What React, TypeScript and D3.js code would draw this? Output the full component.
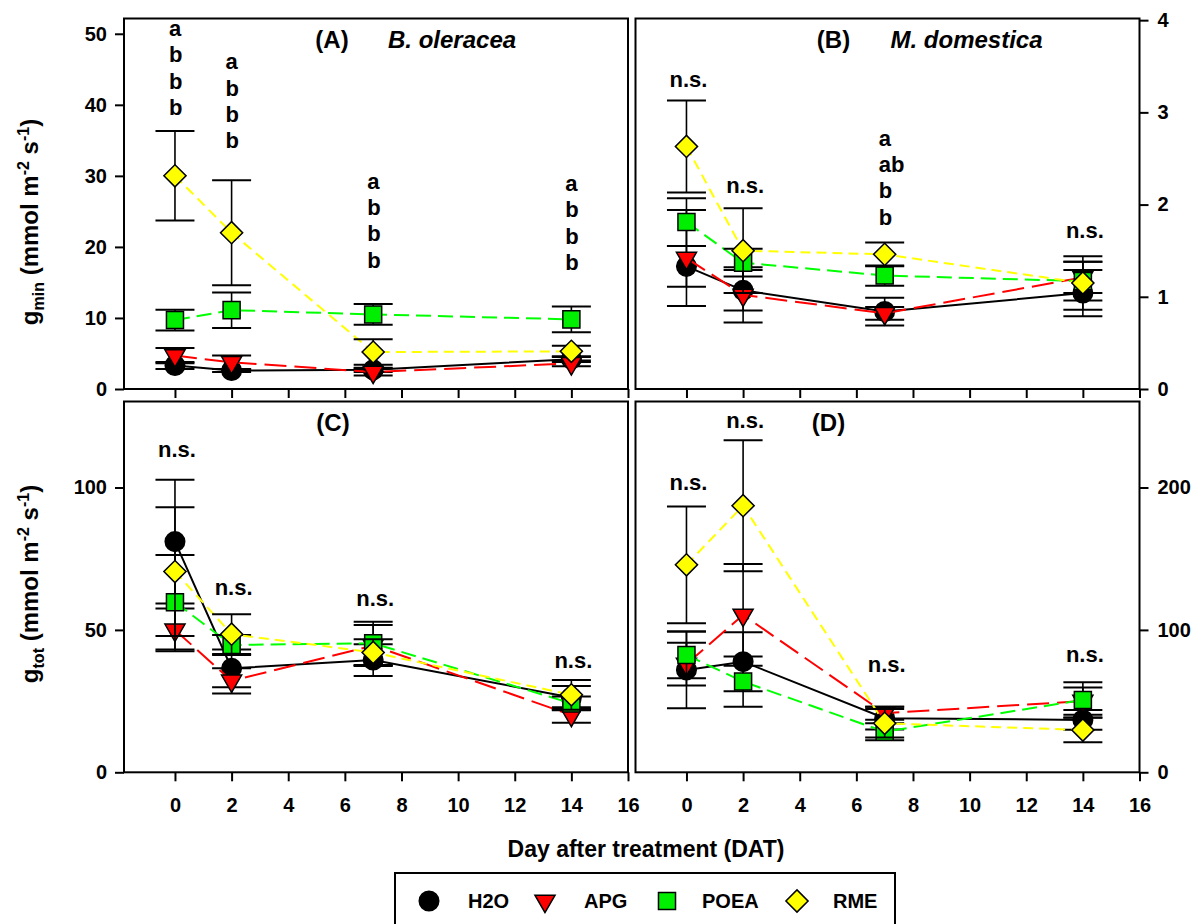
import React, { useEffect, useRef } from 'react';
import * as d3 from 'd3';

// ---------- DATA ----------
const days = [0, 2, 7, 14];
const seriesNames = ['H2O', 'APG', 'POEA', 'RME'];
const xTickValues = [0, 2, 4, 6, 8, 10, 12, 14, 16];

// (A) g_min, B. oleracea
const aH2O = [3.3, 2.6, 2.7, 4.2];
const aH2OErr = [0.5, 0.2, 0.3, 0.4];
const aAPG = [4.7, 3.75, 2.4, 3.6];
const aAPGErr = [1.07, 0.95, 0.5, 0.4];
const aPOEA = [9.7, 11.1, 10.5, 9.8];
const aPOEAErr = [1.45, 2.5, 1.45, 1.8];
const aRME = [30.0, 22.0, 5.2, 5.3];
const aRMEErr = [6.3, 7.4, 1.8, 0.8];

// (B) g_min, M. domestica
const bH2O = [1.33, 1.07, 0.84, 1.04];
const bH2OErr = [0.22, 0.22, 0.15, 0.25];
const bAPG = [1.42, 1.02, 0.82, 1.21];
const bAPGErr = [0.52, 0.3, 0.07, 0.17];
const bPOEA = [1.81, 1.37, 1.23, 1.17];
const bPOEAErr = [0.26, 0.15, 0.11, 0.21];
const bRME = [2.63, 1.5, 1.46, 1.15];
const bRMEErr = [0.5, 0.46, 0.13, 0.29];

// (C) g_tot, B. oleracea
const cH2O = [81.0, 36.5, 39.4, 26.3];
const cH2OErr = [21.7, 6.6, 5.6, 4.0];
const cAPG = [50.0, 32.1, 44.5, 20.1];
const cAPGErr = [7.5, 4.4, 7.2, 2.7];
const cPOEA = [59.7, 44.7, 45.3, 24.2];
const cPOEAErr = [16.6, 3.5, 7.6, 2.4];
const cRME = [70.5, 48.5, 42.1, 27.2];
const cRMEErr = [22.6, 7.0, 4.6, 5.2];

// (D) g_tot, M. domestica
const dH2O = [71.9, 77.7, 38.0, 36.8];
const dH2OErr = [27.0, 20.7, 8.0, 7.0];
const dAPG = [76.0, 110.5, 41.5, 50.0];
const dAPGErr = [15.0, 35.7, 4.6, 9.5];
const dPOEA = [82.4, 63.7, 28.5, 50.8];
const dPOEAErr = [16.4, 17.6, 6.0, 12.4];
const dRME = [145.7, 187.2, 34.4, 29.7];
const dRMEErr = [41.0, 46.0, 10.0, 8.6];

// significance letters
const lettersA = [['a', 'b', 'b', 'b'], ['a', 'b', 'b', 'b'], ['a', 'b', 'b', 'b'], ['a', 'b', 'b', 'b']];
const lettersB = [['n.s.'], ['n.s.'], ['a', 'ab', 'b', 'b'], ['n.s.']];
const lettersC = [['n.s.'], ['n.s.'], ['n.s.'], ['n.s.']];
const lettersD = [['n.s.'], ['n.s.'], ['n.s.'], ['n.s.']];

const yTicksA = [0, 10, 20, 30, 40, 50];
const yTicksB = [0, 1, 2, 3, 4];
const yTicksC = [0, 50, 100];
const yTicksD = [0, 100, 200];

// ---------- STYLE / LAYOUT ----------
const FONT = '"Liberation Sans", Arial, Helvetica, sans-serif';
const styles: Record<string, any> = {
  H2O: { color: '#000000', dash: null, symbol: 'circle', fill: '#000000' },
  APG: { color: '#ff0000', dash: '22 8', symbol: 'triangle', fill: '#ff0000' },
  POEA: { color: '#00ff00', dash: '15 7', symbol: 'square', fill: '#00ee00' },
  RME: { color: '#ffff00', dash: '10 6', symbol: 'diamond', fill: '#ffff00' },
};

const panels = [
  {
    id: 'A', left: 124, right: 628, top: 18.5, bottom: 389, yMax: 52.15, yTicks: yTicksA, side: 'left', xLabels: false,
    series: [[aH2O, aH2OErr], [aAPG, aAPGErr], [aPOEA, aPOEAErr], [aRME, aRMEErr]],
    letters: lettersA, letterY: [49.7, 45.0, 28.2, 27.9],
    title: '(A)', titleX: 208, species: 'B. oleracea', speciesX: 264,
  },
  {
    id: 'B', left: 635.5, right: 1139.5, top: 18.5, bottom: 389, yMax: 4.018, yTicks: yTicksB, side: 'right', xLabels: false,
    series: [[bH2O, bH2OErr], [bAPG, bAPGErr], [bPOEA, bPOEAErr], [bRME, bRMEErr]],
    letters: lettersB, letterY: [3.28, 2.13, 2.64, 1.64],
    title: '(B)', titleX: 198, species: 'M. domestica', speciesX: 255,
  },
  {
    id: 'C', left: 124, right: 628, top: 401.5, bottom: 772.3, yMax: 130.2, yTicks: yTicksC, side: 'left', xLabels: true,
    series: [[cH2O, cH2OErr], [cAPG, cAPGErr], [cPOEA, cPOEAErr], [cRME, cRMEErr]],
    letters: lettersC, letterY: [110.7, 62.3, 58.5, 36.6],
    title: '(C)', titleX: 209, species: '', speciesX: 0,
  },
  {
    id: 'D', left: 635.5, right: 1139.5, top: 401.5, bottom: 772.3, yMax: 260.4, yTicks: yTicksD, side: 'right', xLabels: true,
    series: [[dH2O, dH2OErr], [dAPG, dAPGErr], [dPOEA, dPOEAErr], [dRME, dRMEErr]],
    letters: lettersD, letterY: [198.4, 241.7, 70.7, 77.3],
    title: '(D)', titleX: 193, species: '', speciesX: 0,
  },
];

function symbolPath(kind: string) {
  if (kind === 'circle') return { d: d3.symbol().type(d3.symbolCircle).size(300)()!, rot: 0 };
  if (kind === 'triangle') return { d: d3.symbol().type(d3.symbolTriangle).size(175)()!, rot: 180 };
  if (kind === 'square') return { d: d3.symbol().type(d3.symbolSquare).size(290)()!, rot: 0 };
  return { d: d3.symbol().type(d3.symbolSquare).size(245)()!, rot: 45 };
}

function drawYTitle(svg: any, cx: number, cy: number, sub: string) {
  const t = svg.append('text')
    .attr('transform', `translate(${cx},${cy}) rotate(-90)`)
    .attr('text-anchor', 'middle')
    .attr('font-family', FONT).attr('font-weight', 'bold').attr('font-size', 24).attr('fill', '#000');
  t.append('tspan').text('g');
  t.append('tspan').attr('font-size', 16).attr('dy', 6).text(sub);
  t.append('tspan').attr('dy', -6).text(' (mmol m');
  t.append('tspan').attr('font-size', 16).attr('dy', -9).text('-2');
  t.append('tspan').attr('dy', 9).text(' s');
  t.append('tspan').attr('font-size', 16).attr('dy', -9).text('-1');
  t.append('tspan').attr('dy', 9).text(')');
}

export default function App() {
  const ref = useRef<SVGSVGElement>(null);

  useEffect(() => {
    const svg = d3.select(ref.current);
    svg.selectAll('*').remove();
    svg.append('rect').attr('width', 1204).attr('height', 924).attr('fill', '#fff');

    panels.forEach((p) => {
      const x = d3.scaleLinear().domain([-1.8, 16]).range([p.left, p.right]);
      const y = d3.scaleLinear().domain([0, p.yMax]).range([p.bottom, p.top]);
      const g = svg.append('g');

      // x axis ticks
      const xa = g.append('g').attr('transform', `translate(0,${p.bottom})`)
        .call(d3.axisBottom(x).tickValues(xTickValues).tickSize(9)
          .tickFormat((d: any) => (p.xLabels ? String(d) : '')) as any);
      xa.select('.domain').remove();
      xa.attr('font-family', FONT).attr('font-size', 20).attr('font-weight', 'bold').attr('color', '#000');
      xa.selectAll('line').attr('stroke-width', 2);
      xa.selectAll('text').attr('y', 40).attr('dy', null);

      // y axis
      const axisFn = p.side === 'left' ? d3.axisLeft(y) : d3.axisRight(y);
      const ya = g.append('g').attr('transform', `translate(${p.side === 'left' ? p.left : p.right},0)`)
        .call(axisFn.tickValues(p.yTicks).tickSize(9).tickPadding(p.side === 'left' ? 8 : 9)
          .tickFormat((d: any) => String(d)) as any);
      ya.select('.domain').remove();
      ya.attr('font-family', FONT).attr('font-size', 20).attr('font-weight', 'bold').attr('color', '#000');
      ya.selectAll('line').attr('stroke-width', 2);

      // frame
      g.append('rect').attr('x', p.left).attr('y', p.top)
        .attr('width', p.right - p.left).attr('height', p.bottom - p.top)
        .attr('fill', 'none').attr('stroke', '#000').attr('stroke-width', 2);

      // series
      p.series.forEach(([vals, errs]: any, si: number) => {
        const st = styles[seriesNames[si]];
        const pts = days.map((dd, i) => ({ day: dd, v: vals[i], e: errs[i] }));
        const line = d3.line<any>().x((d) => x(d.day)).y((d) => y(d.v));
        const path = g.append('path').attr('d', line(pts)!).attr('fill', 'none')
          .attr('stroke', st.color).attr('stroke-width', 2);
        if (st.dash) path.attr('stroke-dasharray', st.dash);

        pts.forEach((d) => {
          const cx = x(d.day);
          g.append('line').attr('x1', cx).attr('x2', cx).attr('y1', y(d.v - d.e)).attr('y2', y(d.v + d.e))
            .attr('stroke', '#000').attr('stroke-width', 1.6);
          [d.v - d.e, d.v + d.e].forEach((vv) => {
            g.append('line').attr('x1', cx - 19.5).attr('x2', cx + 19.5).attr('y1', y(vv)).attr('y2', y(vv))
              .attr('stroke', '#000').attr('stroke-width', 2);
          });
        });
        const sp = symbolPath(st.symbol);
        pts.forEach((d) => {
          g.append('path').attr('d', sp.d)
            .attr('transform', `translate(${x(d.day)},${y(d.v)}) rotate(${sp.rot})`)
            .attr('fill', st.fill).attr('stroke', '#000').attr('stroke-width', 1.5);
        });
      });

      // letters
      p.letters.forEach((lines: string[], i: number) => {
        const cx = x(days[i]);
        const y0 = y(p.letterY[i]);
        const single = lines.length === 1;
        lines.forEach((txt, k) => {
          g.append('text').attr('x', single ? cx + 2 : cx - 6).attr('y', y0 + k * 26.4)
            .attr('text-anchor', single ? 'middle' : 'start')
            .attr('font-family', FONT).attr('font-weight', 'bold').attr('font-size', 22).attr('fill', '#000')
            .text(txt);
        });
      });

      // titles
      g.append('text').attr('x', p.left + p.titleX).attr('y', p.top + 29.5).attr('text-anchor', 'middle')
        .attr('font-family', FONT).attr('font-weight', 'bold').attr('font-size', 24).text(p.title);
      if (p.species) {
        g.append('text').attr('x', p.left + p.speciesX).attr('y', p.top + 29.5)
          .attr('font-family', FONT).attr('font-weight', 'bold').attr('font-style', 'italic').attr('font-size', 24)
          .text(p.species);
      }
    });

    drawYTitle(svg, 38, 222, 'min');
    drawYTitle(svg, 38, 584, 'tot');

    svg.append('text').attr('x', 646).attr('y', 857).attr('text-anchor', 'middle')
      .attr('font-family', FONT).attr('font-weight', 'bold').attr('font-size', 23)
      .text('Day after treatment (DAT)');

    // legend
    const lg = svg.append('g');
    lg.append('rect').attr('x', 395).attr('y', 873).attr('width', 500).attr('height', 80)
      .attr('fill', '#fff').attr('stroke', '#000').attr('stroke-width', 2);
    const legX = [429, 545, 667, 797];
    const legTextX = [468, 584, 702, 833];
    seriesNames.forEach((n, i) => {
      const st = styles[n];
      const sp = symbolPath(st.symbol);
      lg.append('path').attr('d', sp.d).attr('transform', `translate(${legX[i]},901) rotate(${sp.rot})`)
        .attr('fill', st.fill).attr('stroke', '#000').attr('stroke-width', 1.5);
      lg.append('text').attr('x', legTextX[i]).attr('y', 908)
        .attr('font-family', FONT).attr('font-weight', 'bold').attr('font-size', 20).text(n);
    });
  }, []);

  return (
    <svg ref={ref} width={1204} height={924}
      style={{ position: 'absolute', left: 0, top: 0, display: 'block' }} />
  );
}
